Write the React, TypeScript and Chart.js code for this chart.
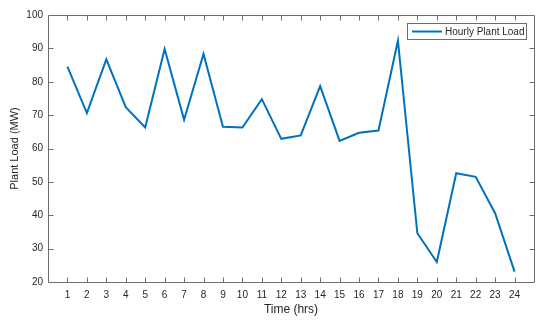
import React, { useEffect, useRef } from "react";
import { Chart, registerables } from "chart.js";

Chart.register(...registerables);

const hours = [1, 2, 3, 4, 5, 6, 7, 8, 9, 10, 11, 12, 13, 14, 15, 16, 17, 18, 19, 20, 21, 22, 23, 24];
const plantLoad = [84.5, 70.6, 86.7, 72.4, 66.3, 89.8, 68.6, 88.3, 66.5, 66.3, 74.8, 62.9, 63.9, 78.7, 62.3, 64.7, 65.4, 92.3, 34.6, 26.0, 52.6, 51.5, 40.6, 23.1];
const seriesLabel = "Hourly Plant Load";
const xTitle = "Time (hrs)";
const yTitle = "Plant Load (MW)";
const xMin = 0;
const xMax = 25;
const yMin = 20;
const yMax = 100;

const FONT = "'Liberation Sans', Arial, Helvetica, sans-serif";
const TEXT = "#262626";
const AXIS = "#6e6e6e";
const LINE = "#0072BD";

const boxPlugin = {
  id: "matlabBox",
  afterDatasetsDraw(chart: any) {
    const ctx = chart.ctx;
    const { left, right, top, bottom } = chart.chartArea;
    const xs = chart.scales.x;
    const ys = chart.scales.y;
    ctx.save();
    ctx.strokeStyle = AXIS;
    ctx.lineWidth = 1;
    ctx.beginPath();
    const L = Math.round(left) + 0.5;
    const R = Math.round(right) + 0.5;
    const T = Math.round(top) + 0.5;
    const B = Math.round(bottom) + 0.5;
    ctx.rect(L, T, R - L, B - T);
    const tl = 5;
    xs.ticks.forEach((t: any) => {
      if (t.value <= xMin || t.value >= xMax) return;
      const px = Math.round(xs.getPixelForValue(t.value)) + 0.5;
      ctx.moveTo(px, B);
      ctx.lineTo(px, B - tl);
      ctx.moveTo(px, T);
      ctx.lineTo(px, T + tl);
    });
    ys.ticks.forEach((t: any) => {
      if (t.value <= yMin || t.value >= yMax) return;
      const py = Math.round(ys.getPixelForValue(t.value)) + 0.5;
      ctx.moveTo(L, py);
      ctx.lineTo(L + tl, py);
      ctx.moveTo(R, py);
      ctx.lineTo(R - tl, py);
    });
    ctx.stroke();

    // legend
    const ds = chart.data.datasets[0];
    const lx = 407, ly = 23, lw = 119, lh = 16;
    ctx.fillStyle = "#ffffff";
    ctx.fillRect(lx, ly, lw, lh);
    ctx.strokeStyle = AXIS;
    ctx.lineWidth = 1;
    ctx.strokeRect(lx + 0.5, ly + 0.5, lw, lh);
    ctx.strokeStyle = ds.borderColor;
    ctx.lineWidth = 2;
    ctx.beginPath();
    ctx.moveTo(412, ly + 8.5);
    ctx.lineTo(442, ly + 8.5);
    ctx.stroke();
    ctx.fillStyle = TEXT;
    ctx.font = `10px ${FONT}`;
    ctx.textBaseline = "middle";
    ctx.textAlign = "left";
    ctx.fillText(ds.label, 445, ly + 9);
    ctx.restore();
  },
};

export default function App() {
  const ref = useRef<HTMLCanvasElement>(null);
  useEffect(() => {
    document.body.style.margin = "0";
    const chart = new Chart(ref.current!, {
      type: "line",
      data: {
        datasets: [
          {
            label: seriesLabel,
            data: hours.map((h, i) => ({ x: h, y: plantLoad[i] })),
            borderColor: LINE,
            backgroundColor: LINE,
            borderWidth: 2,
            pointRadius: 0,
            tension: 0,
            fill: false,
          },
        ],
      },
      options: {
        animation: false,
        responsive: false,
        maintainAspectRatio: false,
        layout: { padding: { top: 15, right: 16, left: 0, bottom: 0 } },
        plugins: { legend: { display: false }, tooltip: { enabled: false } },
        scales: {
          x: {
            type: "linear",
            min: xMin,
            max: xMax,
            afterFit: (s: any) => { s.height = 40; },
            grid: { display: false, drawTicks: false, tickLength: 0 },
            border: { display: false },
            ticks: {
              stepSize: 1,
              autoSkip: false,
              maxRotation: 0,
              padding: 7,
              color: TEXT,
              font: { family: FONT, size: 10 },
              callback: (v: any) => (v >= 1 && v <= 24 ? String(v) : ""),
            },
            title: {
              display: true,
              text: xTitle,
              color: TEXT,
              font: { family: FONT, size: 12 },
              padding: { top: 0, bottom: 5 },
            },
          },
          y: {
            min: yMin,
            max: yMax,
            afterFit: (s: any) => { s.width = 48; },
            grid: { display: false, drawTicks: false, tickLength: 0 },
            border: { display: false },
            ticks: {
              stepSize: 10,
              padding: 5,
              color: TEXT,
              font: { family: FONT, size: 10 },
            },
            title: {
              display: true,
              text: yTitle,
              color: TEXT,
              font: { family: FONT, size: 11 },
              padding: { top: 8, bottom: 0 },
            },
          },
        },
      },
      plugins: [boxPlugin],
    });
    return () => chart.destroy();
  }, []);
  return (
    <div style={{ width: 550, height: 322, background: "#fff" }}>
      <canvas ref={ref} width={550} height={322} style={{ display: "block" }} />
    </div>
  );
}
